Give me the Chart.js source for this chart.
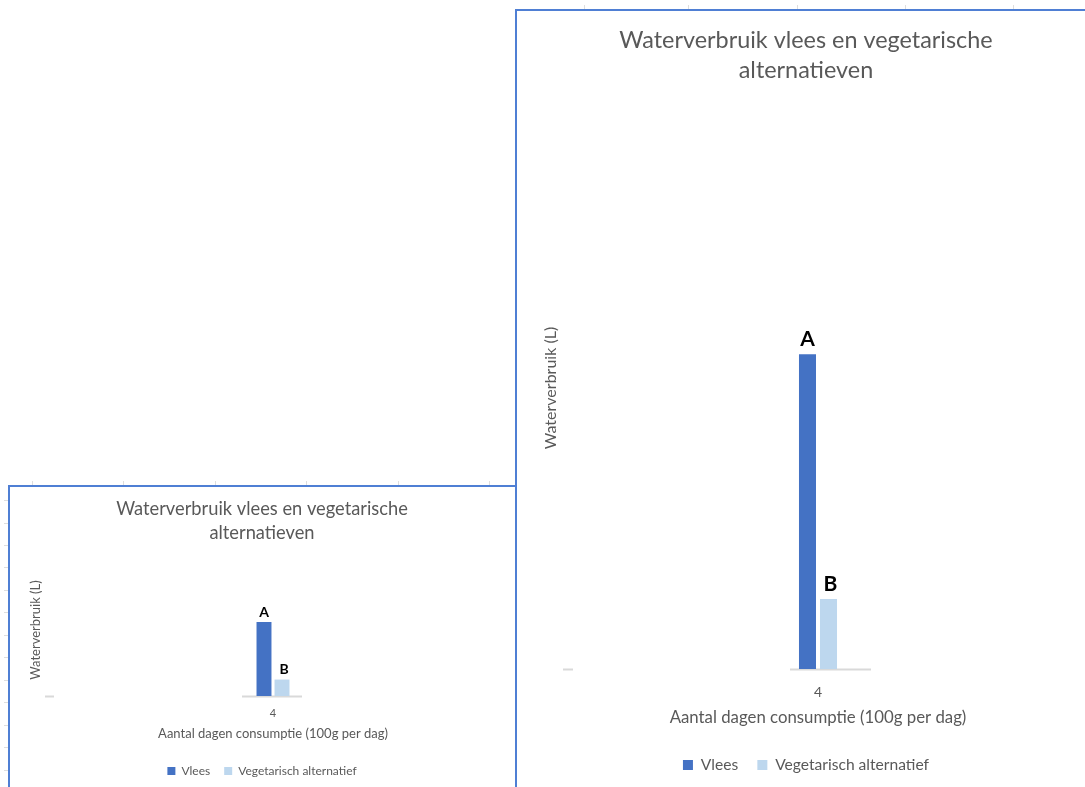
<!DOCTYPE html>
<html>
<head>
<meta charset="utf-8">
<script src="https://cdn.jsdelivr.net/npm/chart.js@4/dist/chart.umd.min.js"></script>
<style>
  html, body { margin: 0; padding: 0; background: #fff; }
  body { position: relative; width: 1085px; height: 787px; overflow: hidden; }
  .panel { position: absolute; background: #fff; border-left: 2px solid #4f7fd4; border-top: 2px solid #4f7fd4; box-sizing: border-box; }
  #panelSmall { left: 8px; top: 485px; width: 520px; height: 310px; z-index: 1; }
  #panelLarge { left: 515px; top: 9px; width: 580px; height: 790px; z-index: 3; }
  canvas { position: absolute; }
  #chartSmall { left: 23px; top: 487px; z-index: 2; }
  #chartLarge { left: 539px; top: 11px; z-index: 4; }
  .mark { position: absolute; background: #dedede; z-index: 0; }
</style>
</head>
<body>
<div id="panelSmall" class="panel"></div>
<canvas id="chartSmall" width="478" height="300"></canvas>
<div id="panelLarge" class="panel"></div>
<canvas id="chartLarge" width="534" height="776"></canvas>

<script>
// Chart content
const categories = ['4'];
const seriesNames = ['Vlees', 'Vegetarisch alternatief'];
const vleesValues = [6160];
const vegetarischValues = [1370];
const barLetters = ['A', 'B'];
const chartTitle = ['Waterverbruik vlees en vegetarische', 'alternatieven'];
const yAxisTitle = 'Waterverbruik (L)';
const xAxisTitle = 'Aantal dagen consumptie (100g per dag)';
const yAxisMax = 11000;

const seriesColors = ['#4472C4', '#BDD7EE'];
const textGray = '#595959';
const fontFamily = 'Lato, "Open Sans", sans-serif';

// faint sheet gridline ticks around the chart frames
function addMark(x, y, w, h) {
  const d = document.createElement('div');
  d.className = 'mark';
  d.style.left = x + 'px'; d.style.top = y + 'px';
  d.style.width = w + 'px'; d.style.height = h + 'px';
  document.body.appendChild(d);
}
[32, 123, 215, 306, 398, 489].forEach(x => addMark(x, 481, 1, 4));
[500, 523, 545, 567, 590, 612, 635, 657, 680, 702, 725, 747, 770].forEach(y => addMark(4, y, 4, 1));
[584, 688, 797, 905, 1013].forEach(x => addMark(x, 5, 1, 4));

// short axis stub at the left of the plot and axis segment under the category
const axisFragments = {
  id: 'axisFragments',
  beforeDatasetsDraw(chart, args, opts) {
    const { ctx, chartArea } = chart;
    const cx = chart.scales.x.getPixelForValue(0);
    const y = chartArea.bottom + 0.5;
    ctx.save();
    ctx.strokeStyle = '#d9d9d9';
    ctx.lineWidth = opts.width;
    ctx.beginPath();
    ctx.moveTo(chartArea.left, y);
    ctx.lineTo(chartArea.left + opts.stub, y);
    ctx.moveTo(cx + opts.segLeft, y);
    ctx.lineTo(cx + opts.segRight, y);
    ctx.stroke();
    ctx.restore();
  }
};

// bold letters above each bar
const letterLabels = {
  id: 'letterLabels',
  afterDatasetsDraw(chart, args, opts) {
    const { ctx } = chart;
    ctx.save();
    ctx.fillStyle = '#000';
    ctx.font = 'bold ' + opts.size + 'px ' + fontFamily;
    ctx.textAlign = 'center';
    ctx.textBaseline = 'middle';
    chart.data.datasets.forEach((ds, i) => {
      const el = chart.getDatasetMeta(i).data[0];
      ctx.fillText(barLetters[i], el.x + (i === 1 ? opts.shiftB : 0), el.y - opts.offset);
    });
    ctx.restore();
  }
};

function buildChart(canvasId, s) {
  return new Chart(document.getElementById(canvasId), {
    type: 'bar',
    data: {
      labels: categories,
      datasets: [
        { label: seriesNames[0], data: vleesValues, backgroundColor: seriesColors[0], borderWidth: 0,
          barPercentage: s.barPct, categoryPercentage: s.catPct },
        { label: seriesNames[1], data: vegetarischValues, backgroundColor: seriesColors[1], borderWidth: 0,
          barPercentage: s.barPct, categoryPercentage: s.catPct }
      ]
    },
    options: {
      responsive: false,
      animation: false,
      devicePixelRatio: 1,
      layout: { padding: { left: 0, right: 0, top: 0, bottom: s.padBottom } },
      plugins: {
        title: {
          display: true,
          text: chartTitle,
          color: textGray,
          font: { family: fontFamily, size: s.titleSize, weight: 'normal', lineHeight: s.titleLH / s.titleSize },
          padding: { top: s.titlePadTop, bottom: s.titlePadBottom }
        },
        legend: {
          display: true,
          position: 'bottom',
          labels: {
            color: textGray,
            font: { family: fontFamily, size: s.legendSize },
            boxWidth: s.legendBox,
            boxHeight: s.legendBox,
            padding: s.legendPad
          }
        },
        tooltip: { enabled: false },
        axisFragments: { stub: s.stub, segLeft: s.segLeft, segRight: s.segRight, width: s.axisWidth },
        letterLabels: { size: s.letterSize, offset: s.letterOffset, shiftB: s.shiftB }
      },
      scales: {
        x: {
          grid: { display: false, drawTicks: false },
          border: { display: false },
          ticks: { color: textGray, font: { family: fontFamily, size: s.tickSize }, padding: s.tickPad },
          title: {
            display: true, text: xAxisTitle, color: textGray,
            font: { family: fontFamily, size: s.xTitleSize },
            padding: { top: 0, bottom: s.xTitlePadBottom }
          },
          afterFit(scale) { scale.height = s.xHeight; }
        },
        y: {
          min: 0,
          max: yAxisMax,
          grid: { display: false, drawTicks: false },
          border: { display: false },
          ticks: { display: false },
          title: {
            display: true, text: yAxisTitle, color: textGray,
            font: { family: fontFamily, size: s.yTitleSize },
            padding: { top: s.yTitlePadTop, bottom: 0 }
          },
          afterFit(scale) { scale.width = s.yWidth; }
        }
      }
    },
    plugins: [axisFragments, letterLabels]
  });
}

buildChart('chartLarge', {
  titleSize: 23.4, titleLH: 30, titlePadTop: 14, titlePadBottom: 22,
  yTitleSize: 16, yWidth: 24, yTitlePadTop: 2.4,
  tickSize: 14, tickPad: 14.6, xTitleSize: 16.8, xHeight: 69, xTitlePadBottom: 9.9,
  legendSize: 15.6, legendPad: 19.2, legendBox: 10,
  padBottom: 4.2,
  barPct: 0.81, catPct: 0.0824,
  letterSize: 21, letterOffset: 15, shiftB: 2,
  stub: 10, segLeft: -28, segRight: 53, axisWidth: 2
});

buildChart('chartSmall', {
  titleSize: 18.3, titleLH: 24, titlePadTop: 10, titlePadBottom: 19,
  yTitleSize: 13, yWidth: 22, yTitlePadTop: 5.2,
  tickSize: 11, tickPad: 10.4, xTitleSize: 13, xHeight: 55, xTitlePadBottom: 9.2,
  legendSize: 12, legendPad: 14, legendBox: 8,
  padBottom: 0,
  barPct: 0.83, catPct: 0.079,
  letterSize: 14, letterOffset: 10, shiftB: 2,
  stub: 9, segLeft: -31, segRight: 29, axisWidth: 2
});
</script>
</body>
</html>
